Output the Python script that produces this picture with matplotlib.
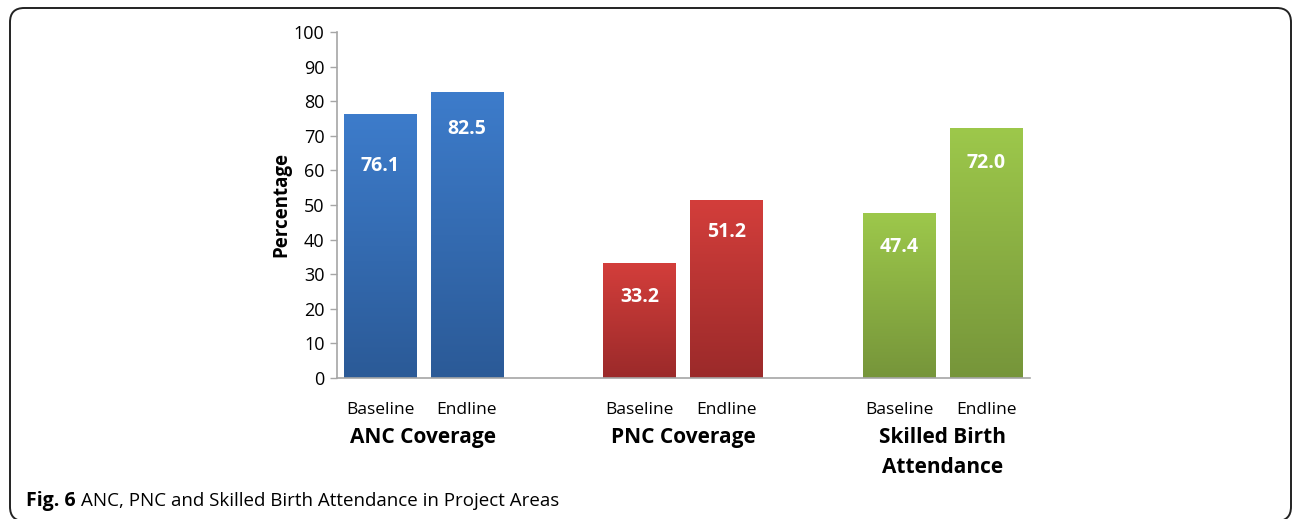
import matplotlib
matplotlib.use("Agg")
import matplotlib.pyplot as plt
import matplotlib.transforms as mtransforms
from matplotlib.colors import LinearSegmentedColormap
from matplotlib.patches import FancyBboxPatch
import numpy as np

groups = ["ANC Coverage", "PNC Coverage", "Skilled Birth\nAttendance"]
phases = ["Baseline", "Endline"]
baseline = [76.1, 33.2, 47.4]
endline = [82.5, 51.2, 72.0]
# top / bottom colours of the gradient fill for each group
group_colors = [("#3D7CCB", "#2B5A97"),
                ("#D33E3B", "#9B2A2A"),
                ("#9DC84B", "#76953A")]
# how far below the bar top each value label sits
label_drop = [[14.7, 10.5], [9.8, 9.0], [9.6, 9.8]]

plt.rcParams['font.family'] = ['Open Sans', 'DejaVu Sans']

W, H = 1292, 519
fig = plt.figure(figsize=(W / 100, H / 100), dpi=100)
ax = fig.add_axes([0.2608, 0.2717, 0.5364, 0.6667])

width = 0.281
offsets = [-0.166, 0.168]
centers = np.arange(len(groups))

tick_pos = []
tick_lab = []
for g, c in enumerate(centers):
    top, bot = group_colors[g]
    cmap = LinearSegmentedColormap.from_list("grad%d" % g, [bot, top])
    for k, vals in enumerate([baseline, endline]):
        v = vals[g]
        xc = c + offsets[k]
        x0, x1 = xc - width / 2, xc + width / 2
        grad = np.linspace(0, 1, 256).reshape(-1, 1)
        ax.imshow(grad, cmap=cmap, origin="lower", aspect="auto",
                  extent=(x0, x1, 0, v), zorder=2, interpolation="bilinear")
        ax.text(xc, v - label_drop[g][k], "%.1f" % v, color="white",
                fontsize=14, fontweight="bold", ha="center", va="center",
                zorder=4)
        tick_pos.append(xc)
        tick_lab.append(phases[k])

ax.set_xlim(-0.333, 2.337)
ax.set_ylim(0, 100)
ax.set_yticks(np.arange(0, 101, 10))
ax.set_xticks(tick_pos)
ax.set_xticklabels(tick_lab, fontsize=12.5)
ax.tick_params(axis="x", length=0, pad=17)
ax.tick_params(axis="y", length=5, width=1, color="#A6A6A6",
               labelsize=13, pad=4)

for s in ["top", "right"]:
    ax.spines[s].set_visible(False)
for s in ["left", "bottom"]:
    ax.spines[s].set_color("#A6A6A6")
    ax.spines[s].set_linewidth(1.2)

trans = mtransforms.blended_transform_factory(ax.transData, ax.transAxes)
for c, name in zip(centers, groups):
    ax.text(c, -0.143, name, transform=trans, fontsize=15,
            fontweight="bold", ha="center", va="top", linespacing=1.55)

ax.text(-0.08, 0.5, "Percentage", transform=ax.transAxes, rotation=90,
        fontsize=13.5, fontweight="bold", ha="center", va="center")

# caption under the chart
cap_y = 1 - 501 / H
fig.text(26 / W, cap_y, "Fig. 6", fontsize=14,
         fontweight="bold", va="center", ha="left")
fig.text(81 / W, cap_y,
         "ANC, PNC and Skilled Birth Attendance in Project Areas",
         fontsize=13.5, va="center", ha="left")

# rounded frame around the whole figure, open at the bottom edge
frame = FancyBboxPatch((10 / W, -2 / H), 1281 / W, (H - 8 + 2) / H,
                       boxstyle="round,pad=0,rounding_size=0.011",
                       transform=fig.transFigure, facecolor="none",
                       edgecolor="#222222", linewidth=1.4,
                       mutation_aspect=W / H)
fig.patches.append(frame)

fig.savefig("out.png", dpi=100)
